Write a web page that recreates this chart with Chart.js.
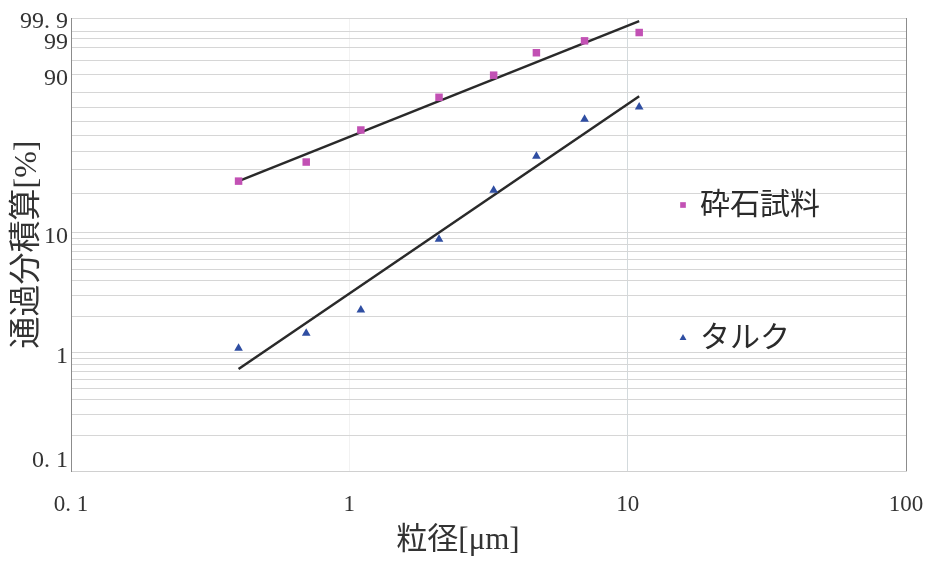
<!DOCTYPE html>
<html lang="ja">
<head>
<meta charset="UTF-8">
<script src="https://cdn.jsdelivr.net/npm/chart.js@4"></script>
<style>
  html, body { margin: 0; padding: 0; background: #fff; }
  #wrap { width: 927px; height: 562px; }
</style>
</head>
<body>
<div id="wrap"><canvas id="grafico"></canvas></div>
<script>
  // particle sizes [um] of the measured points
  const sizes = [0.4, 0.7, 1.1, 2.1, 3.3, 4.7, 7.0, 11.0];
  // cumulative passing [%]
  const crushedStone = [24.9, 34, 54, 77, 89.6, 97.0, 98.8, 99.45];
  const talc = [1.09, 1.46, 2.29, 8.8, 21.3, 37.2, 61.7, 70.4];

  // fitted lines (end points)
  const fitSizes = [0.4, 11.0];
  const crushedStoneFit = [24.9, 99.85];
  const talcFit = [0.73, 77.7];

  // axes
  const xTicks = [0.1, 1, 10, 100];
  const yGrid = [0.1, 0.2, 0.3, 0.4, 0.5, 0.6, 0.7, 0.8, 0.9,
                 1, 2, 3, 4, 5, 6, 7, 8, 9,
                 10, 20, 30, 40, 50, 60, 70, 80, 90, 95, 98, 99, 99.5, 99.9];
  const yLabels = [0.1, 1, 10, 90, 99, 99.9];
  const xTitle = '粒径[μm]';
  const yTitle = '通過分積算[%]';

  // Weibull (Rosin-Rammler) probability scale
  function weibull(p) {
    return Math.log(-Math.log(1 - p / 100));
  }
  function fmt(v) {
    return String(v).replace('.', '. ');
  }

  const serif = "'Liberation Serif', 'Noto Sans CJK JP', serif";
  const jp = "'Noto Sans CJK JP', sans-serif";
  const squareColor = '#c251b4';
  const triangleColor = '#2f4ea2';
  const lineColor = '#2a2a2a';

  function pts(xs, ys) {
    return xs.map((x, i) => ({ x: x, y: weibull(ys[i]) }));
  }

  // legend drawn inside the plot, right frame line, x title (sits left of centre)
  const sideLegend = {
    id: 'sideLegend',
    afterDatasetsDraw(chart) {
      const ctx = chart.ctx;
      const area = chart.chartArea;
      ctx.save();
      ctx.strokeStyle = '#8c8c8c';
      ctx.lineWidth = 1;
      ctx.beginPath();
      ctx.moveTo(area.right + 0.5, area.top);
      ctx.lineTo(area.right + 0.5, area.bottom);
      ctx.stroke();

      const entries = [
        { ds: 0, x: 683, y: 205 },
        { ds: 1, x: 683, y: 338 }
      ];
      entries.forEach(e => {
        const d = chart.data.datasets[e.ds];
        ctx.fillStyle = d.backgroundColor;
        Chart.helpers.drawPoint(ctx, { pointStyle: d.pointStyle, radius: 4, borderWidth: 0, rotation: 0 }, e.x, e.y);
        ctx.fillStyle = '#2b2b2b';
        ctx.font = '30px ' + jp;
        ctx.textAlign = 'left';
        ctx.textBaseline = 'middle';
        ctx.fillText(d.label, e.x + 17, e.y - 2);
      });

      ctx.fillStyle = '#333';
      ctx.font = '31px ' + serif;
      ctx.textAlign = 'center';
      ctx.textBaseline = 'middle';
      ctx.fillText(xTitle, 458, 541);
      ctx.restore();
    }
  };

  new Chart(document.getElementById('grafico'), {
    type: 'scatter',
    data: {
      datasets: [
        {
          label: '砕石試料',
          data: pts(sizes, crushedStone),
          pointStyle: 'rect',
          pointRadius: 5.3,
          backgroundColor: squareColor,
          borderWidth: 0
        },
        {
          label: 'タルク',
          data: pts(sizes, talc),
          pointStyle: 'triangle',
          pointRadius: 5,
          backgroundColor: triangleColor,
          borderWidth: 0
        },
        {
          label: 'fit1',
          data: pts(fitSizes, crushedStoneFit),
          showLine: true,
          borderColor: lineColor,
          borderWidth: 2.5,
          pointRadius: 0
        },
        {
          label: 'fit2',
          data: pts(fitSizes, talcFit),
          showLine: true,
          borderColor: lineColor,
          borderWidth: 2.5,
          pointRadius: 0
        }
      ]
    },
    options: {
      responsive: true,
      maintainAspectRatio: false,
      animation: false,
      layout: { padding: { top: 18, right: 21, left: 0, bottom: 0 } },
      plugins: {
        legend: { display: false },
        tooltip: { enabled: false }
      },
      scales: {
        x: {
          type: 'logarithmic',
          min: 0.1,
          max: 100,
          afterBuildTicks: s => { s.ticks = xTicks.map(v => ({ value: v })); },
          afterFit: s => {
            s.height = 91;
            s.paddingLeft = 0;
            s.paddingRight = 0;
          },
          ticks: {
            autoSkip: false,
            maxRotation: 0,
            padding: 20,
            color: '#333',
            font: { family: serif, size: 23 },
            callback: (v, i) => fmt(xTicks[i])
          },
          grid: {
            drawTicks: false,
            color: c => {
              const v = c.tick && c.tick.value;
              if (v === 10) return '#d3dadd';
              if (v === 1) return 'rgba(0,0,0,0.05)';
              return 'rgba(0,0,0,0)';
            }
          },
          border: { color: '#d0d0d0' },
          title: { display: false }
        },
        y: {
          type: 'linear',
          min: weibull(0.1),
          max: weibull(99.9),
          afterBuildTicks: s => { s.ticks = yGrid.map(p => ({ value: weibull(p) })); },
          afterFit: s => { s.width = 71; },
          ticks: {
            autoSkip: false,
            padding: 3,
            labelOffset: 4,
            color: '#333',
            font: { family: serif, size: 24 },
            callback: (v, i) => {
              const p = yGrid[i];
              if (!yLabels.includes(p)) return '';
              if (p === 0.1) return [fmt(p), ''];
              return fmt(p);
            }
          },
          grid: {
            drawTicks: false,
            color: '#d6d6d6',
            lineWidth: 1
          },
          border: { color: '#8c8c8c' },
          title: {
            display: true,
            text: yTitle,
            color: '#333',
            font: { family: serif, size: 32 },
            padding: { top: 8, bottom: 0 }
          }
        }
      }
    },
    plugins: [sideLegend]
  });
</script>
</body>
</html>
